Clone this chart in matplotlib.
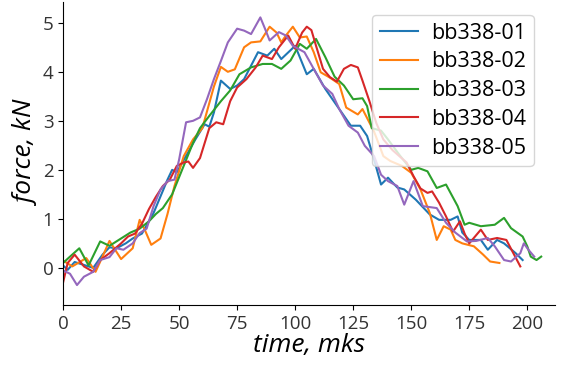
import matplotlib
matplotlib.use("Agg")
import matplotlib.pyplot as plt

plt.rcParams["font.family"] = ["Open Sans", "DejaVu Sans"]

# force vs time
t1 = [0, 2, 5, 9, 13, 17, 20, 23, 27, 30, 34, 39, 42, 45, 47, 49, 52, 57, 61, 63, 65, 68, 72, 75, 78,
      84, 88, 91, 94, 100, 105, 108, 113, 119, 124, 128, 131, 134, 137, 140, 144, 147, 152, 158, 162,
      167, 170, 172, 175, 180, 183, 187, 190, 195, 198]
f1 = [0.05, -0.04, 0.12, 0.06, 0.0, 0.27, 0.42, 0.4, 0.5, 0.6, 0.7, 1.12, 1.46, 1.8, 2.0, 1.95, 2.2,
      2.62, 2.93, 2.88, 3.17, 3.82, 3.65, 3.72, 3.85, 4.4, 4.33, 4.47, 4.26, 4.53, 3.95, 4.06, 3.65,
      3.24, 2.9, 2.9, 2.69, 2.21, 1.7, 1.84, 1.64, 1.6, 1.39, 1.09, 0.98, 0.98, 1.05, 0.72, 0.57, 0.57,
      0.37, 0.57, 0.5, 0.3, 0.16]

t2 = [0, 4, 10, 14, 17, 20, 25, 30, 33, 35, 38, 42, 45, 48, 52, 56, 60, 65, 68, 71, 74, 78, 81, 85,
      89, 92, 94, 96, 99, 102, 105, 108, 111, 115, 119, 122, 127, 129, 134, 138, 141, 146, 150, 154,
      158, 161, 164, 167, 169, 172, 177, 181, 184, 188]
f2 = [0.15, 0.03, 0.2, -0.08, 0.23, 0.55, 0.18, 0.4, 0.98, 0.8, 0.47, 0.6, 1.1, 1.67, 2.28, 2.62,
      2.85, 3.7, 4.1, 4.0, 4.05, 4.5, 4.6, 4.62, 4.92, 4.8, 4.6, 4.74, 4.92, 4.7, 4.72, 4.4, 3.99,
      3.88, 3.75, 3.27, 3.13, 3.24, 2.78, 2.28, 2.18, 2.08, 1.94, 1.6, 1.12, 0.57, 0.85, 0.78, 0.57,
      0.5, 0.44, 0.27, 0.13, 0.1]

t3 = [0, 3, 7, 11, 16, 20, 25, 29, 33, 37, 40, 43, 47, 50, 53, 56, 59, 63, 68, 72, 76, 81, 86, 90,
      94, 98, 102, 105, 109, 113, 117, 121, 125, 129, 131, 133, 137, 140, 145, 150, 153, 157, 161,
      165, 170, 173, 175, 180, 186, 190, 193, 198, 200, 201.5, 204, 206]
f3 = [0.1, 0.23, 0.4, 0.05, 0.54, 0.45, 0.6, 0.72, 0.8, 0.95, 1.1, 1.22, 1.5, 1.85, 2.2, 2.55, 2.85,
      3.1, 3.4, 3.62, 3.95, 4.09, 4.16, 4.16, 4.06, 4.23, 4.57, 4.47, 4.67, 4.3, 3.9, 3.72, 3.44,
      3.46, 3.3, 2.85, 2.8, 2.62, 2.3, 2.0, 2.04, 1.97, 1.63, 1.7, 1.26, 0.88, 0.92, 0.85, 0.88,
      1.02, 0.81, 0.64, 0.44, 0.23, 0.16, 0.23]

t4 = [0, 2, 5, 9, 13, 16, 20, 25, 28, 31, 34, 37, 40, 43, 46, 49, 52, 54, 56, 59, 63, 66, 69, 72,
      75, 79, 83, 86, 90, 93, 97, 100, 103, 105, 107, 109, 112, 115, 118, 121, 124, 127, 129, 132,
      135, 138, 142, 148, 151, 154, 157, 159, 162, 165, 168, 171, 173, 175, 180, 183, 187, 191, 194, 197]
f4 = [-0.3, 0.1, 0.27, 0.03, -0.08, 0.16, 0.3, 0.5, 0.64, 0.7, 0.9, 1.2, 1.45, 1.67, 1.8, 2.08,
      2.15, 2.17, 2.04, 2.24, 2.85, 2.97, 2.93, 3.4, 3.68, 3.85, 4.09, 4.33, 4.26, 4.5, 4.74, 4.47,
      4.8, 4.92, 4.85, 4.53, 4.06, 3.89, 3.8, 4.06, 4.14, 4.09, 3.82, 3.4, 2.95, 2.62, 2.4, 2.15,
      1.87, 1.62, 1.53, 1.56, 1.33, 1.05, 0.74, 0.95, 0.7, 0.5, 0.78, 0.57, 0.61, 0.57, 0.3, 0.03]

t5 = [0, 3, 6, 9, 13, 16, 20, 23, 26, 30, 33, 36, 39, 42, 45, 48, 50, 53, 56, 59, 62, 65, 68, 71,
      75, 78, 81, 85, 87, 89, 93, 96, 99, 104, 108, 112, 116, 119, 123, 127, 130, 134, 137, 140, 144,
      147, 151, 155, 161, 165, 169, 174, 178, 183, 186, 190, 193, 197, 198.5, 200.5, 203]
f5 = [-0.05, -0.12, -0.35, -0.18, -0.08, 0.16, 0.22, 0.4, 0.37, 0.5, 0.71, 0.8, 1.26, 1.6, 1.77,
      1.8, 2.21, 2.97, 3.0, 3.07, 3.44, 3.85, 4.22, 4.6, 4.88, 4.84, 4.77, 5.11, 4.88, 4.64, 4.81,
      4.74, 4.53, 4.4, 4.06, 3.72, 3.55, 3.24, 2.9, 2.76, 2.49, 2.28, 1.9, 1.77, 1.67, 1.29, 1.77,
      1.26, 1.22, 0.92, 0.72, 0.54, 0.55, 0.61, 0.44, 0.16, 0.13, 0.3, 0.5, 0.37, 0.23]

labels = ["bb338-01", "bb338-02", "bb338-03", "bb338-04", "bb338-05"]
times = [t1, t2, t3, t4, t5]
forces = [f1, f2, f3, f4, f5]

fig = plt.figure(figsize=(5.63, 3.65), dpi=100)
ax = fig.add_axes([0.112, 0.164, 0.874, 0.830])

for t, f, lab in zip(times, forces, labels):
    ax.plot(t, f, linewidth=1.5, label=lab)

ax.set_xlim(0, 212)
ax.set_ylim(-0.76, 5.42)
ax.set_xticks([0, 25, 50, 75, 100, 125, 150, 175, 200])
ax.set_yticks([0, 1, 2, 3, 4, 5])
ax.tick_params(labelsize=13.5, labelcolor="#333333")
ax.spines["top"].set_visible(False)
ax.spines["right"].set_visible(False)
ax.set_xlabel("time, mks", fontsize=19, style="italic", labelpad=0)
ax.set_ylabel("force, kN", fontsize=19, style="italic", labelpad=2)
ax.legend(loc="upper left", fontsize=15.5, labelspacing=0.36, borderpad=0.35,
          handlelength=1.8, handletextpad=0.6, borderaxespad=0,
          bbox_to_anchor=(372 / 563, 1 - 15 / 365), bbox_transform=fig.transFigure)

fig.savefig("out.png", dpi=100)
